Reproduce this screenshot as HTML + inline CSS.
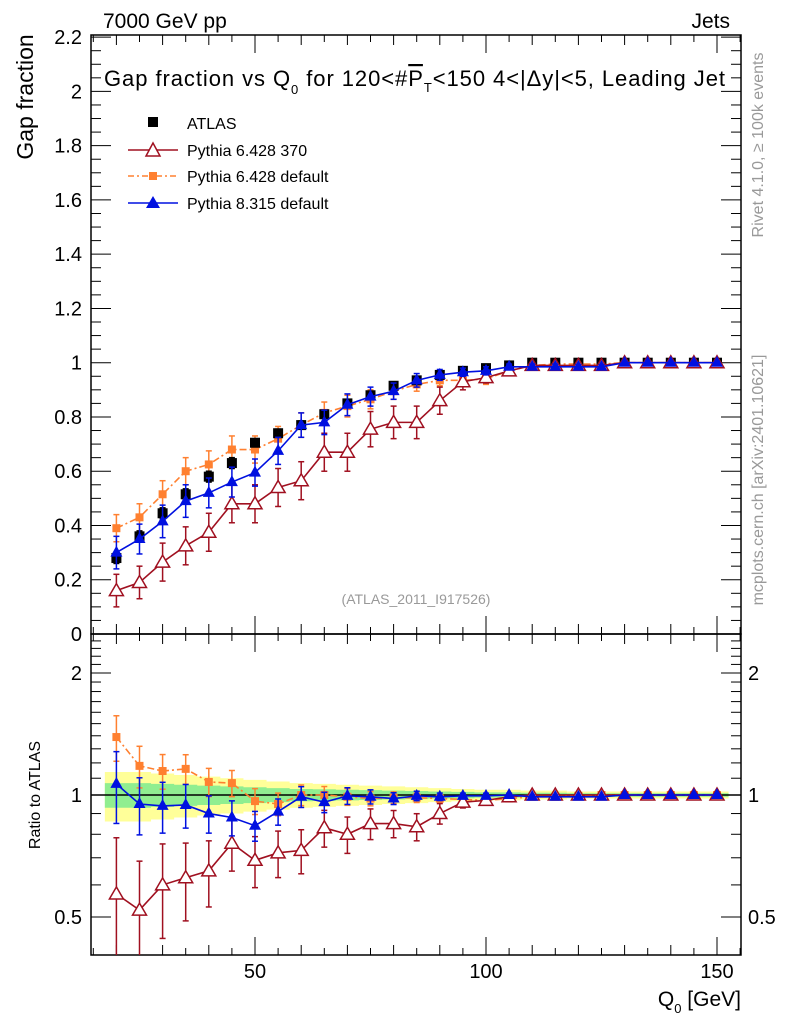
<!DOCTYPE html>
<html><head><meta charset="utf-8"><style>
body{margin:0;background:#fff;width:786px;height:1024px;overflow:hidden}
svg{font-family:"Liberation Sans",Arial,sans-serif}
</style></head><body>
<svg id="c" width="786" height="1024">
<defs><clipPath id="rclip"><rect x="91" y="634" width="650" height="321"/></clipPath></defs>
<text x="103" y="28" font-size="21">7000 GeV pp</text>
<text x="730" y="28" font-size="21" text-anchor="end">Jets</text>
<text x="104" y="86" font-size="22" textLength="621">Gap fraction vs Q<tspan font-size="13" dy="8">0</tspan><tspan dy="-8"> for 120&lt;#</tspan><tspan text-decoration="overline">P</tspan><tspan font-size="13" dy="6">T</tspan><tspan dy="-6">&lt;150  4&lt;|Δy|&lt;5, Leading Jet</tspan></text>
<text transform="translate(33,97) rotate(-90)" font-size="23" text-anchor="middle">Gap fraction</text>
<text transform="translate(40,795) rotate(-90)" font-size="16" text-anchor="middle">Ratio to ATLAS</text>
<text x="741" y="1006" font-size="21" text-anchor="end">Q<tspan font-size="13" dy="7">0</tspan><tspan dy="-7"> [GeV]</tspan></text>
<text transform="translate(763,145) rotate(-90)" font-size="16" fill="#999" text-anchor="middle">Rivet 4.1.0, ≥ 100k events</text>
<text transform="translate(763,480) rotate(-90)" font-size="16" fill="#999" text-anchor="middle">mcplots.cern.ch [arXiv:2401.10621]</text>
<text x="416" y="604" font-size="14" fill="#999" text-anchor="middle">(ATLAS_2011_I917526)</text>
<g id="legend">
<rect x="148" y="117" width="10" height="10" fill="#000"/>
<text x="187" y="129" font-size="16">ATLAS</text>
<line x1="128" y1="150" x2="178" y2="150" stroke="#a01020" stroke-width="1.5"/>
<path d="M153,143 L160,156 L146,156 Z" fill="#fff" stroke="#a01020" stroke-width="1.5"/>
<text x="187" y="156" font-size="16">Pythia 6.428 370</text>
<line x1="128" y1="176" x2="178" y2="176" stroke="#ff8030" stroke-width="1.5" stroke-dasharray="6,3,2,3"/>
<rect x="149" y="172" width="8" height="8" fill="#ff8030"/>
<text x="187" y="182" font-size="16">Pythia 6.428 default</text>
<line x1="128" y1="203" x2="178" y2="203" stroke="#0010e0" stroke-width="1.5"/>
<path d="M153,196 L160,208 L146,208 Z" fill="#0010e0"/>
<text x="187" y="209" font-size="16">Pythia 8.315 default</text>
</g>
</svg>
<script>
const xs=[20,25,30,35,40,45,50,55,60,65,70,75,80,85,90,95,100,105,110,115,120,125,130,135,140,145,150];
const atlas=[0.28,0.36,0.445,0.515,0.58,0.63,0.705,0.74,0.77,0.81,0.85,0.88,0.915,0.935,0.955,0.97,0.98,0.99,1,1,1,1,1,1,1,1,1];
const atlasErr=[0.02,0.02,0.02,0.02,0.02,0.02,0.015,0.015,0.015,0.015,0.012,0.012,0.01,0.01,0.01,0.008,0.008,0.006,0.005,0.005,0.005,0.005,0.004,0.004,0.004,0.004,0.004];
const p6def=[0.39,0.43,0.515,0.60,0.625,0.68,0.68,0.72,0.77,0.815,0.84,0.865,0.895,0.92,0.935,0.935,0.94,0.97,0.99,0.995,0.995,0.995,1,1,1,1,1];
const p6defErr=[0.05,0.05,0.05,0.05,0.05,0.05,0.05,0.045,0.045,0.04,0.04,0.035,0.03,0.025,0.02,0.02,0.02,0.015,0.01,0.01,0.01,0.008,0.006,0.006,0.005,0.005,0.005];
const p8=[0.30,0.35,0.415,0.49,0.52,0.56,0.595,0.675,0.77,0.78,0.845,0.875,0.895,0.935,0.955,0.965,0.97,0.985,0.985,0.985,0.985,0.985,1,1,1,1,1];
const p8Err=[0.06,0.055,0.06,0.06,0.055,0.055,0.05,0.05,0.045,0.045,0.04,0.035,0.03,0.025,0.02,0.015,0.015,0.01,0.01,0.01,0.008,0.008,0.006,0.006,0.005,0.005,0.005];
const p6370=[0.16,0.19,0.265,0.325,0.375,0.48,0.48,0.54,0.565,0.67,0.67,0.755,0.78,0.78,0.86,0.93,0.945,0.97,0.99,0.99,0.99,0.99,1,1,1,1,1];
const p6370Err=[0.06,0.06,0.07,0.07,0.07,0.07,0.07,0.07,0.07,0.07,0.07,0.065,0.06,0.06,0.05,0.03,0.02,0.015,0.01,0.01,0.01,0.01,0.008,0.008,0.006,0.006,0.006];
const rP6def=[1.39,1.18,1.146,1.16,1.077,1.07,0.966,0.95,1.0,1.0,0.99,0.98,0.985,0.985,0.98,0.975,0.97,0.98,0.99,0.99,0.995,1,1,1,1,1,1];
const rP8=[1.065,0.95,0.94,0.945,0.90,0.88,0.84,0.91,0.99,0.96,0.995,0.99,0.98,0.995,0.99,0.995,0.995,1,0.99,0.99,0.99,0.99,1,1,1,1,1];
const rP6370=[0.57,0.52,0.60,0.625,0.65,0.76,0.69,0.72,0.73,0.83,0.80,0.85,0.85,0.835,0.90,0.96,0.97,0.99,1,1,1,1,1,1,1,1,1];
const bandYellow=[0.14,0.14,0.13,0.12,0.11,0.1,0.09,0.08,0.07,0.065,0.06,0.055,0.05,0.045,0.04,0.035,0.03,0.03,0.025,0.025,0.02,0.02,0.02,0.02,0.02,0.02,0.02];
const bandGreen=[0.07,0.07,0.065,0.06,0.055,0.05,0.045,0.04,0.035,0.033,0.03,0.028,0.025,0.023,0.02,0.018,0.015,0.015,0.013,0.013,0.01,0.01,0.01,0.01,0.01,0.01,0.01];
const yTicks=["0","0.2","0.4","0.6","0.8","1","1.2","1.4","1.6","1.8","2","2.2"];
const rTicks=[0.5,1,2];
const xTicks=[50,100,150];

const L=91,R=741,T=35,MB=634,RB=955;
const X=v=>24+v*4.62;
const Y=v=>634-v*271.3;
const RY=r=>795-122*Math.log2(r);
const svg=document.getElementById('c');
const NS="http://www.w3.org/2000/svg";
function mk(t,a,p){const e=document.createElementNS(NS,t);for(const k in a)e.setAttribute(k,a[k]);(p||svg).appendChild(e);return e;}
const bg=mk('g',{'clip-path':'url(#rclip)'});


function band(arr,col){let up=[],dn=[];xs.forEach((x,i)=>{const a=X(x-2.5),b=X(x+2.5);up.push(a+','+RY(1+arr[i]),b+','+RY(1+arr[i]));dn.unshift(b+','+RY(1-arr[i]),a+','+RY(1-arr[i]));});mk('polygon',{points:up.concat(dn).join(' '),fill:col},bg);}
band(bandYellow,'#ffff99');band(bandGreen,'#90ee90');
mk('line',{x1:L,x2:R,y1:RY(1),y2:RY(1),stroke:'#000','stroke-width':1.5});
const fr=mk('g',{fill:'none',stroke:'#000','stroke-width':1.5});


mk('rect',{x:L,y:T,width:R-L,height:MB-T},fr);
mk('rect',{x:L,y:MB,width:R-L,height:RB-MB},fr);
for(let v=15;v<=155;v+=5){const maj=v%50==0;const l=maj?18:(v%10==0?10:7);const x=X(v);
[[MB,-1],[T,1],[RB,-1],[MB,1]].forEach(([y,d])=>mk('line',{x1:x,x2:x,y1:y,y2:y+d*l,stroke:'#000','stroke-width':1}));}
xTicks.forEach(v=>{const t=mk('text',{x:X(v),y:978,'font-size':20,'text-anchor':'middle'});t.textContent=v;

});
for(let v=0;v<=2.21;v+=0.05){const y=Y(v);const maj=Math.abs(v*5-Math.round(v*5))<1e-6;const l=maj?20:10;
mk('line',{x1:L,x2:L+l,y1:y,y2:y,stroke:'#000'});mk('line',{x1:R,x2:R-l,y1:y,y2:y,stroke:'#000'});}
yTicks.forEach((s,i)=>{const t=mk('text',{x:82,y:Y(i*0.2)+7,'font-size':20,'text-anchor':'end'});t.textContent=s;

});
[0.4,0.5,0.6,0.7,0.8,0.9,1,1.1,1.2,1.3,1.4,1.5,1.6,1.7,1.8,1.9,2,2.1,2.2,2.3,2.4].forEach(r=>{const l=rTicks.includes(r)?20:10;const y=RY(r);if(y<MB||y>RB)return;
mk('line',{x1:L,x2:L+l,y1:y,y2:y,stroke:'#000'});mk('line',{x1:R,x2:R-l,y1:y,y2:y,stroke:'#000'});});
rTicks.forEach(r=>{const t=mk('text',{x:82,y:RY(r)+7,'font-size':20,'text-anchor':'end'});t.textContent=r;


const t2=mk('text',{x:748,y:RY(r)+7,'font-size':20,'text-anchor':'start'});t2.textContent=r;

});
function series(name,vals,errs,yf,col,mark,dash,clip){
 const g=mk('g',clip?{'clip-path':'url(#rclip)'}:{});
 
 
 if(mark!=='sq-black'){const pts=xs.map((x,i)=>X(x)+','+yf(vals[i])).join(' ');
  const a={points:pts,fill:'none',stroke:col,'stroke-width':1.6};if(dash)a['stroke-dasharray']=dash;mk('polyline',a,g);}
 xs.forEach((x,i)=>{const cx=X(x),cy=yf(vals[i]);
  if(errs){const y1=yf(vals[i]+errs[i]),y2=yf(Math.max(vals[i]-errs[i],0.01));
   mk('line',{x1:cx,x2:cx,y1:y1,y2:y2,stroke:col,'stroke-width':1.5},g);
   mk('line',{x1:cx-3,x2:cx+3,y1:y1,y2:y1,stroke:col,'stroke-width':1.5},g);
   mk('line',{x1:cx-3,x2:cx+3,y1:y2,y2:y2,stroke:col,'stroke-width':1.5},g);}
  if(mark==='sq-black')mk('rect',{x:cx-5,y:cy-5,width:10,height:10,fill:'#000'},g);
  else if(mark==='sq')mk('rect',{x:cx-4,y:cy-4,width:8,height:8,fill:col},g);
  else if(mark==='tri')mk('path',{d:`M${cx},${cy-7}L${cx+6},${cy+4}L${cx-6},${cy+4}Z`,fill:col},g);
  else mk('path',{d:`M${cx},${cy-7}L${cx+7},${cy+5}L${cx-7},${cy+5}Z`,fill:'#fff',stroke:col,'stroke-width':1.5},g);
 });
}
series('p6-default-series',p6def,p6defErr,Y,'#ff8030','sq','7,3,2,3');
series('atlas-data',atlas,atlasErr,Y,'#000','sq-black');
series('p6-370-series',p6370,p6370Err,Y,'#a01020','otri');
series('p8-series',p8,p8Err,Y,'#0010e0','tri');
const rr=(v,e,a)=>v.map((x,i)=>e[i]/a[i]);
series('ratio-p6-default',rP6def,rr(rP6def,p6defErr,atlas),RY,'#ff8030','sq','7,3,2,3',true);
series('ratio-p6-370',rP6370,rr(rP6370,p6370Err,atlas),RY,'#a01020','otri',null,true);
series('ratio-p8',rP8,rr(rP8,p8Err,atlas),RY,'#0010e0','tri',null,true);
</script>
</body></html>
